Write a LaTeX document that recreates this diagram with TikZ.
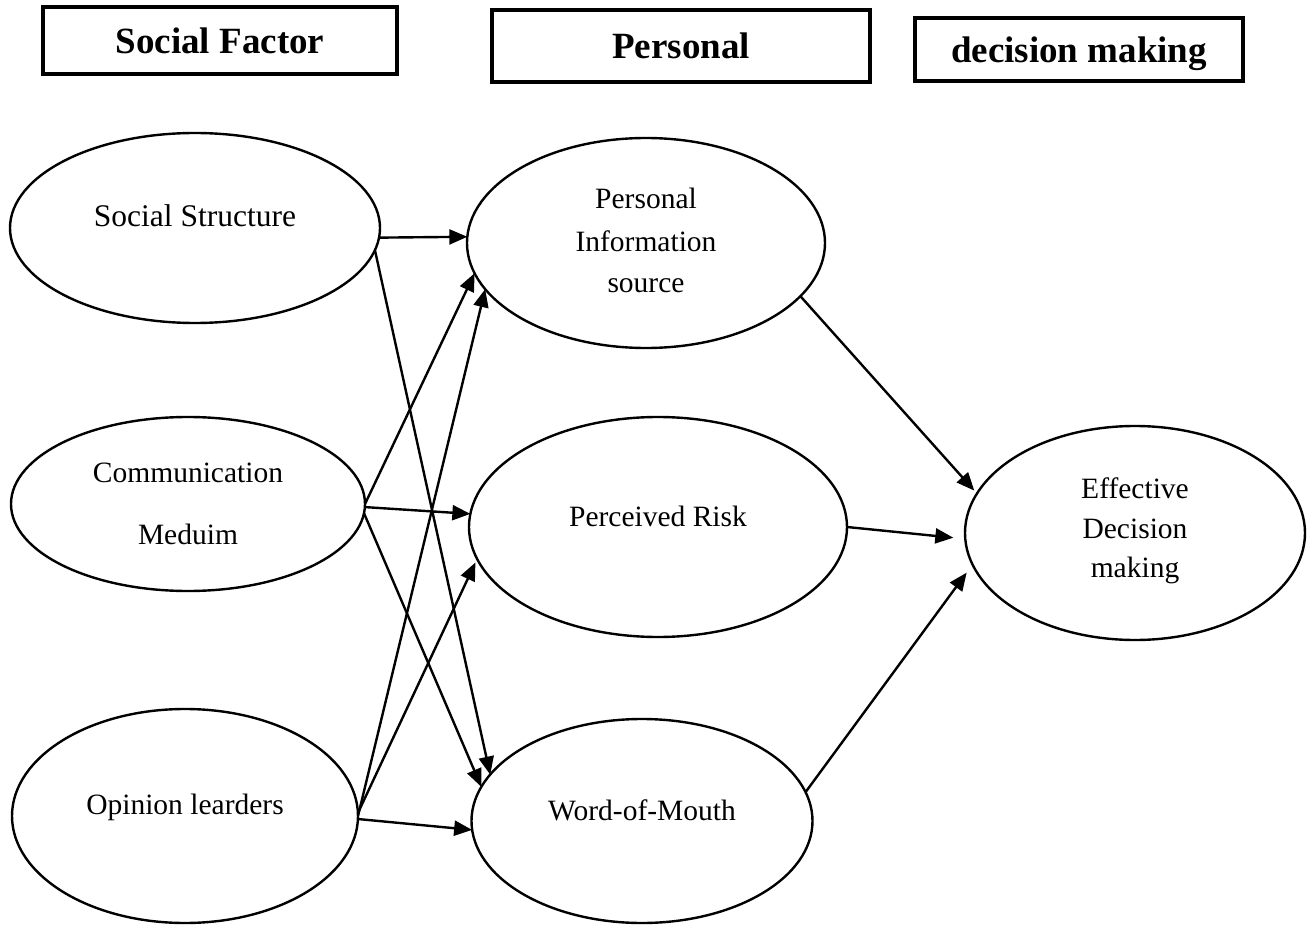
\documentclass[tikz,border=0pt]{standalone}
\usepackage{fontspec}
\setmainfont{Liberation Serif}
\usetikzlibrary{arrows.meta,positioning,shapes.geometric}

\tikzset{
  factor/.style={draw, ellipse, line width=1.2pt, inner sep=0pt, outer sep=0pt},
  lbl/.style={anchor=base, inner sep=0pt, font=\fontsize{14.75}{17}\selectfont},
  headbox/.style={draw, line width=1.6pt, inner sep=0pt, text height=13pt, text depth=0pt,
    font=\fontsize{18.5}{22}\selectfont\bfseries},
  arr/.style={-{Triangle[length=9pt,width=7.5pt]}, line width=1.2pt},
}

\begin{document}
\begin{tikzpicture}[x=0.5pt, y=-0.5pt]
  \useasboundingbox (0,0) rectangle (1307,925);

  % Column headers
  \node[headbox, minimum width=177pt, minimum height=33.5pt] (hsoc) at (220,40.5) {Social Factor};
  \node[headbox, minimum width=189pt, minimum height=36pt] (hper) at (681,46) {Personal};
  \node[headbox, minimum width=164pt, minimum height=31.5pt] (hdec) at (1079,49.5) {decision making};

  % Social factors
  \node[factor, minimum width=185pt, minimum height=95pt] (ss) at (195,228) {};
  \node[lbl, font=\fontsize{15.75}{18}\selectfont] (sst) at (195,227) {Social Structure};
  \node[factor, minimum width=177pt, minimum height=87pt] (cm) at (188,504) {};
  \node[lbl] (cmt1) at (188,482) {Communication};
  \node[lbl] (cmt2) at (188,544) {Meduim};
  \node[factor, minimum width=173pt, minimum height=107pt] (ol) at (185,816) {};
  \node[lbl] (olt) at (185,814) {Opinion learders};

  % Personal factors
  \node[factor, minimum width=179pt, minimum height=105pt] (pis) at (646,243) {};
  \foreach \t/\y/\i in {Personal/209/1, Information/252/2, source/293/3}
    \node[lbl] (pist\i) at (646,\y) {\t};
  \node[factor, minimum width=189pt, minimum height=110pt] (pr) at (658,527) {};
  \node[lbl] (prt) at (658,526) {Perceived Risk};
  \node[factor, minimum width=170.5pt, minimum height=102pt] (wom) at (642,821) {};
  \node[lbl] (womt) at (642,820) {Word-of-Mouth};

  % Decision making
  \node[factor, minimum width=170pt, minimum height=107pt] (edm) at (1135,533) {};
  \foreach \t/\y/\i in {Effective/498/1, Decision/538/2, making/577/3}
    \node[lbl] (edmt\i) at (1135,\y) {\t};

  % Paths
  \foreach \a/\b/\s in {ss.-3/pis.178/0pt, ss.-7.6/wom.163/0pt,
      cm.0.5/pis.-170.5/0pt, cm.-1.3/pr.176/0pt, cm.-3.2/wom.168/0pt,
      ol.0.3/pis.-164.6/0pt, ol.1/pr.-170.7/2pt, ol.-1/wom.-177.6/0pt,
      pis.-19.6/edm.166/2pt, pr.0/edm.-178.7/6pt, wom.10/edm.-169/5pt}
    \draw[arr, shorten >=\s] (\a) -- (\b);
\end{tikzpicture}
\end{document}
